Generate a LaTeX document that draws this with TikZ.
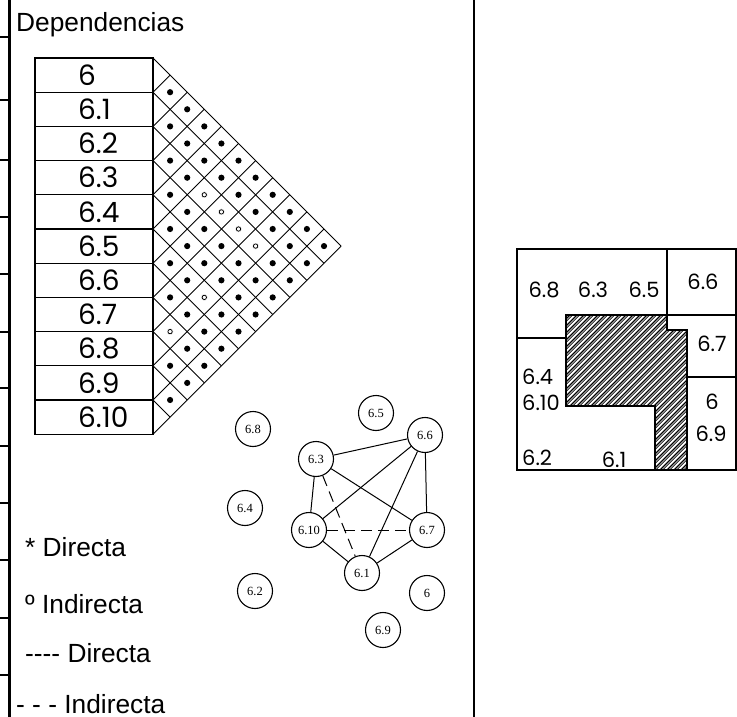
\documentclass[tikz,border=0pt]{standalone}
\usepackage{fontspec}
\newfontfamily\arialfont{Liberation Sans}
\newfontfamily\cadfont{Poppins}
\newfontfamily\serfont{Liberation Serif}
\usepackage{tikz}
\usetikzlibrary{positioning}
\tikzset{
  heading/.style={anchor=base west, inner sep=0pt, font=\arialfont\fontsize{26.3}{30}\selectfont},
  rowlabel/.style={anchor=west, inner sep=0pt, font=\cadfont\fontsize{28}{28}\selectfont},
  planlabel/.style={inner sep=0pt, font=\cadfont\fontsize{21}{21}\selectfont},
  depnode/.style={circle, draw, line width=1.1pt, minimum size=35pt, inner sep=0pt,
    font=\serfont\fontsize{12.5}{12.5}\selectfont},
  directedge/.style={line width=1pt},
  indirectedge/.style={line width=1pt, dash pattern=on 11pt off 6pt},
}

\begin{document}
\begin{tikzpicture}[x=1pt, y=-1pt]
  \useasboundingbox (0,0) rectangle (737,717);
  \draw[line width=3pt] (9,0) -- (9,717);
  \draw[line width=2pt] (474,0) -- (474,717);
  \foreach \y in {37,100,160,217,274,332,388,446,503,560,618,675}
    \draw[line width=1.2pt] (0,\y) -- (9,\y);

  \node[heading] (title) at (16,32) {Dependencias};

  % table and dependency triangle
  \foreach \lab [count=\i from 0] in {6,6.1,6.2,6.3,6.4,6.5,6.6,6.7,6.8,6.9,6.10} {
    \draw[line width=1.2pt] (35,{58+34.2*\i}) rectangle (153,{58+34.2*(\i+1)});
    \node[rowlabel] (r\i) at (78,{75.1+34.2*\i}) {\lab};
  }
  \foreach \b in {0,...,11} {
    \draw[line width=0.9pt] (153,{58+34.2*\b}) -- ++({17.1*(11-\b)},{17.1*(11-\b)});
    \draw[line width=0.9pt] (153,{58+34.2*\b}) -- ++({17.1*\b},{-17.1*\b});
  }
  \foreach \i in {0,...,9} {
    \foreach \j in {\i,...,10} {
      \ifnum\j>\i
        \fill ({153+17.1*(\j-\i)},{58+17.1*(\i+\j+1)}) circle (3.1);
      \fi
    }
  }
  \foreach \i/\j in {2/5,2/6,2/7,2/8,5/8,7/8} {
    \fill[white] ({153+17.1*(\j-\i)},{58+17.1*(\i+\j+1)}) circle (3.5);
    \draw[line width=0.8pt] ({153+17.1*(\j-\i)},{58+17.1*(\i+\j+1)}) circle (2.2);
  }

  % graph
  \node[depnode] (n68) at (253,429) {6.8};
  \node[depnode] (n65) at (376,413) {6.5};
  \node[depnode] (n66) at (425,435) {6.6};
  \node[depnode] (n63) at (316,459) {6.3};
  \node[depnode] (n64) at (245,508) {6.4};
  \node[depnode] (n610) at (309,530) {6.10};
  \node[depnode] (n67) at (427,530) {6.7};
  \node[depnode] (n61) at (362,573) {6.1};
  \node[depnode] (n62) at (255,591) {6.2};
  \node[depnode] (n6) at (427,593) {6};
  \node[depnode] (n69) at (383,630) {6.9};

  \draw[directedge] (n63) -- (n66);
  \draw[directedge] (n63) -- (n610);
  \draw[directedge] (n63) -- (n67);
  \draw[directedge] (n66) -- (n610);
  \draw[directedge] (n66) -- (n61);
  \draw[directedge] (n66) -- (n67);
  \draw[directedge] (n610) -- (n61);
  \draw[directedge] (n67) -- (n61);
  \draw[indirectedge] (n63) -- (n61);
  \draw[indirectedge] (n610) -- (n67);

  % legend
  \node[heading] (leg1) at (25,556) {* Directa};
  \node[heading] (leg2) at (25,613) {º Indirecta};
  \node[heading] (leg3) at (25,662) {---- Directa};
  \node[heading] (leg4) at (16,713) {- - - Indirecta};

  % plan
  \begin{scope}
    \clip (566,315) -- (667,315) -- (667,330) -- (687,330) -- (687,470)
      -- (655,470) -- (655,406) -- (566,406) -- cycle;
    \foreach \c in {878,885,...,1164} {
      \draw[line width=1.1pt] (\c-480,480) -- (\c-280,280);
      \draw[line width=0.7pt] (\c-477.3,480) -- (\c-277.3,280);
    }
  \end{scope}
  \draw[line width=2pt] (566,315) -- (667,315) -- (667,330) -- (687,330) -- (687,470)
    -- (655,470) -- (655,406) -- (566,406) -- cycle;
  \draw[line width=2pt] (517,249) rectangle (736,470);
  \draw[line width=2pt] (667,249) -- (667,315) -- (737,315);
  \draw[line width=2pt] (687,377) -- (737,377);
  \draw[line width=2pt] (517,338) -- (566,338);

  \node[planlabel] (p68) at (544,290) {6.8};
  \node[planlabel] (p63) at (593,290) {6.3};
  \node[planlabel] (p65) at (644,290) {6.5};
  \node[planlabel] (p66) at (703,282) {6.6};
  \node[planlabel] (p67) at (712,344) {6.7};
  \node[planlabel, anchor=west] (p64) at (522,377) {6.4};
  \node[planlabel, anchor=west] (p610) at (522,403) {6.10};
  \node[planlabel] (p6) at (712,402) {6};
  \node[planlabel] (p69) at (711,434) {6.9};
  \node[planlabel, anchor=west] (p62) at (522,458) {6.2};
  \node[planlabel] (p61) at (614,460) {6.1};
\end{tikzpicture}
\end{document}
